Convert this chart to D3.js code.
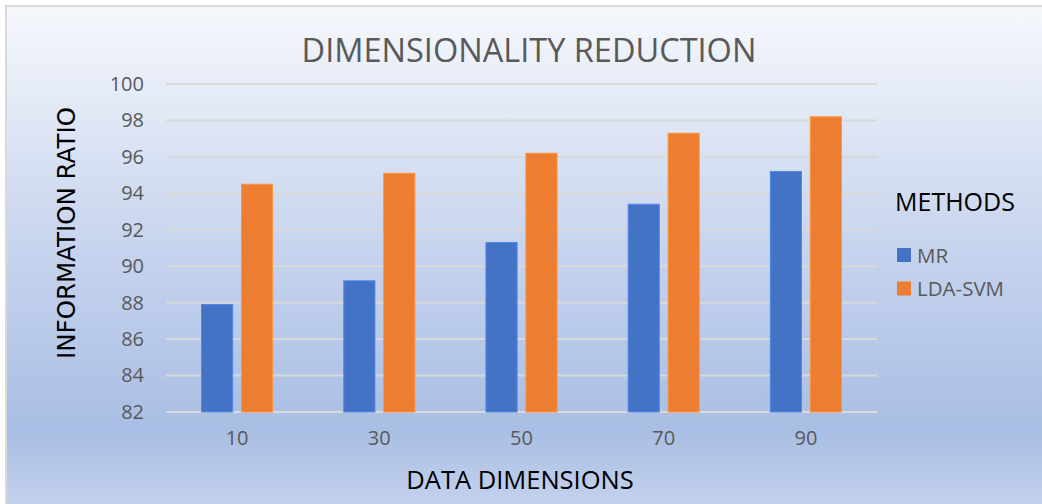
<!DOCTYPE html>
<html lang="en">
<head>
  <meta charset="UTF-8">
  <title>Dimensionality Reduction</title>
  <script src="https://d3js.org/d3.v7.min.js"></script>
  <style>
    body { margin: 0; background: #fff; }
    text { font-family: "Open Sans", sans-serif; }
  </style>
</head>
<body>
  <svg width="1042" height="504"></svg>
<script>
  // data
  const dimensions = ["10", "30", "50", "70", "90"];
  const seriesNames = ["MR", "LDA-SVM"];
  const mrValues = [87.9, 89.2, 91.3, 93.4, 95.2];
  const ldaSvmValues = [94.5, 95.1, 96.2, 97.3, 98.2];
  const yTicks = [82, 84, 86, 88, 90, 92, 94, 96, 98, 100];
  const colors = ["#4472c4", "#ed7d31"];

  const svg = d3.select("svg");
  const width = +svg.attr("width");
  const height = +svg.attr("height");

  // gradient background with thin border (office style)
  const defs = svg.append("defs");
  const grad = defs.append("linearGradient")
    .attr("id", "bg").attr("x1", 0).attr("y1", 0).attr("x2", 0).attr("y2", 1);
  grad.append("stop").attr("offset", "0%").attr("stop-color", "#f6f8fc");
  grad.append("stop").attr("offset", "48%").attr("stop-color", "#c7d4ee");
  grad.append("stop").attr("offset", "85%").attr("stop-color", "#a9bee4");
  grad.append("stop").attr("offset", "100%").attr("stop-color", "#c3d1ec");

  svg.append("rect")
    .attr("x", 6).attr("y", 6)
    .attr("width", width - 6).attr("height", height - 6)
    .attr("fill", "url(#bg)");
  svg.append("path")
    .attr("d", `M6,${height} V6 H${width}`)
    .attr("fill", "none")
    .attr("stroke", "#d9d9d9")
    .attr("stroke-width", 2);

  const margin = { left: 166, top: 84, right: 165, bottom: 92 };
  const innerWidth = width - margin.left - margin.right;
  const innerHeight = height - margin.top - margin.bottom;

  const g = svg.append("g")
    .attr("transform", `translate(${margin.left},${margin.top})`);

  const y = d3.scaleLinear().domain([82, 100]).range([innerHeight, 0]);
  const x0 = d3.scaleBand().domain(dimensions).range([0, innerWidth])
    .paddingInner(0.5).paddingOuter(0.25);
  const x1 = d3.scaleBand().domain(seriesNames).range([0, x0.bandwidth()])
    .paddingInner(0.22);

  // gridlines
  g.append("g")
    .selectAll("line")
    .data(yTicks)
    .join("line")
    .attr("x1", 0).attr("x2", innerWidth)
    .attr("y1", d => y(d)).attr("y2", d => y(d))
    .attr("stroke", "#d9d9d9")
    .attr("stroke-width", 2);

  // y axis labels
  const yAxis = g.append("g")
    .call(d3.axisLeft(y).tickValues(yTicks).tickSize(0).tickPadding(22))
    .attr("font-size", 20)
    .attr("font-family", "Open Sans, sans-serif");
  yAxis.select(".domain").remove();
  yAxis.selectAll("text").attr("fill", "#595959");

  // x axis labels
  const xAxis = g.append("g")
    .attr("transform", `translate(0,${innerHeight})`)
    .call(d3.axisBottom(x0).tickSize(0).tickPadding(19))
    .attr("font-size", 20)
    .attr("font-family", "Open Sans, sans-serif");
  xAxis.select(".domain").remove();
  xAxis.selectAll("text").attr("fill", "#595959");

  // bars
  const rows = dimensions.map((d, i) => ({
    dim: d,
    vals: [
      { name: seriesNames[0], value: mrValues[i] },
      { name: seriesNames[1], value: ldaSvmValues[i] }
    ]
  }));

  const groups = g.append("g")
    .selectAll("g")
    .data(rows)
    .join("g")
    .attr("transform", d => `translate(${x0(d.dim)},0)`);

  groups.selectAll("rect")
    .data(d => d.vals)
    .join("rect")
    .attr("x", d => x1(d.name))
    .attr("width", x1.bandwidth())
    .attr("y", d => y(d.value))
    .attr("height", d => y(82) - y(d.value))
    .attr("fill", (d, i) => colors[i])
    .attr("stroke", (d, i) => d3.color(colors[i]).brighter(0.5))
    .attr("stroke-width", 1);

  // title
  svg.append("text")
    .attr("x", 529).attr("y", 62)
    .attr("text-anchor", "middle")
    .attr("fill", "#595959")
    .style("font-size", "32.5px")
    .text("DIMENSIONALITY REDUCTION");

  // axis titles
  svg.append("text")
    .attr("transform", "translate(75,233) rotate(-90)")
    .attr("text-anchor", "middle")
    .attr("fill", "#000")
    .style("font-family", "'DejaVu Sans', sans-serif")
    .style("font-size", "24.5px")
    .text("INFORMATION RATIO");

  svg.append("text")
    .attr("x", 520).attr("y", 489)
    .attr("text-anchor", "middle")
    .attr("fill", "#000")
    .style("font-size", "25.5px")
    .text("DATA DIMENSIONS");

  // legend
  const legend = svg.append("g").attr("transform", "translate(895,0)");
  legend.append("text")
    .attr("x", 0).attr("y", 211)
    .attr("fill", "#000")
    .style("font-size", "25px")
    .text("METHODS");

  const items = legend.selectAll("g.item")
    .data(seriesNames)
    .join("g")
    .attr("class", "item")
    .attr("transform", (d, i) => `translate(2,${248 + i * 33.5})`);
  items.append("rect")
    .attr("width", 14).attr("height", 14)
    .attr("fill", (d, i) => colors[i]);
  items.append("text")
    .attr("x", 20).attr("y", 14.5)
    .attr("fill", "#595959")
    .style("font-size", "20.5px")
    .text(d => d);
</script>
</body>
</html>
